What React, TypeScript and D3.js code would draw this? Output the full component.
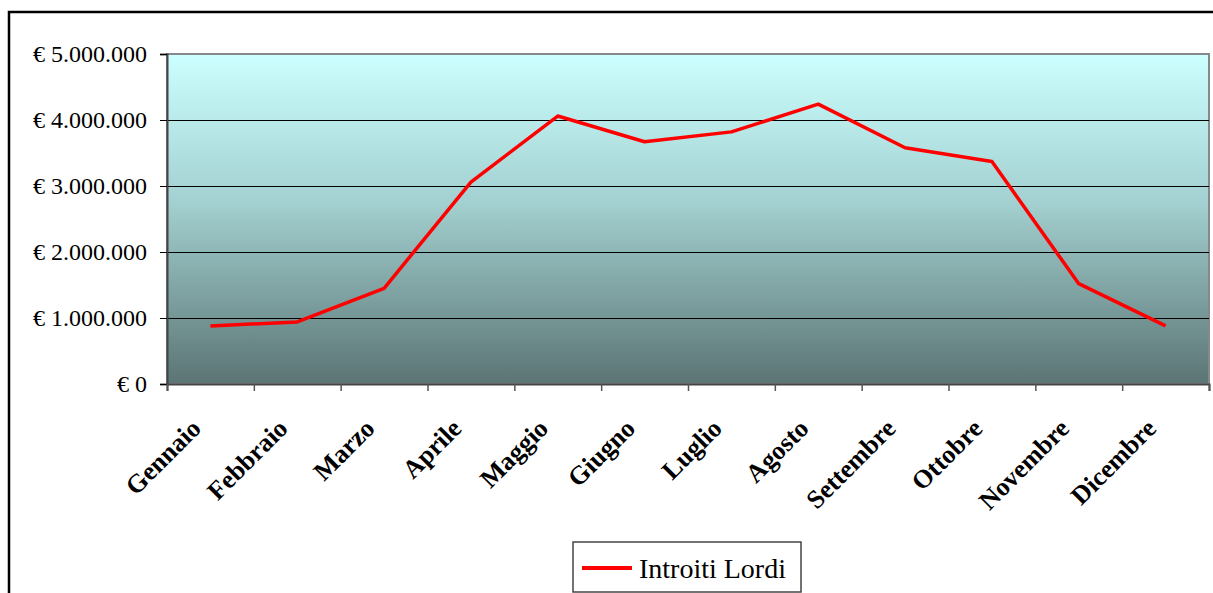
import React, { useEffect, useRef } from 'react'
import * as d3 from 'd3'

const months = ['Gennaio', 'Febbraio', 'Marzo', 'Aprile', 'Maggio', 'Giugno',
    'Luglio', 'Agosto', 'Settembre', 'Ottobre', 'Novembre', 'Dicembre']
const introitiLordi = [880000, 940000, 1450000, 3060000, 4060000, 3670000,
    3820000, 4240000, 3580000, 3370000, 1520000, 880000]
const yTicks = [0, 1000000, 2000000, 3000000, 4000000, 5000000]
const seriesName = 'Introiti Lordi'

const width = 1213
const height = 593
const margin = { top: 54, right: 4, bottom: 209, left: 167 }
const font = "'Liberation Serif', 'DejaVu Serif', serif"

const fmt = (v: number) => '€ ' + d3.format(',')(v).replace(/,/g, '.')

export default function App() {
    const node = useRef<SVGSVGElement>(null)

    useEffect(() => {
        const svg = d3.select(node.current)
        svg.selectAll('*').remove()

        const x = d3.scaleBand<number>()
            .domain(d3.range(months.length))
            .range([margin.left, width - margin.right])

        const y = d3.scaleLinear()
            .domain([0, 5000000])
            .range([height - margin.bottom, margin.top])

        const defs = svg.append('defs')
        const grad = defs.append('linearGradient')
            .attr('id', 'bg').attr('x1', 0).attr('y1', 0).attr('x2', 0).attr('y2', 1)
        grad.append('stop').attr('offset', '0%').attr('stop-color', '#ccffff')
        grad.append('stop').attr('offset', '45%').attr('stop-color', '#a3d0d0')
        grad.append('stop').attr('offset', '100%').attr('stop-color', '#5b7474')

        // outer frame
        svg.append('path')
            .attr('d', `M9,${height} V12 H${width}`)
            .attr('fill', 'none').attr('stroke', '#000').attr('stroke-width', 2.5)

        svg.append('rect')
            .attr('x', margin.left).attr('y', margin.top)
            .attr('width', width - margin.right - margin.left)
            .attr('height', y(0) - margin.top)
            .attr('fill', 'url(#bg)')
            .attr('stroke', '#888').attr('stroke-width', 2)

        // grid
        svg.append('g')
            .selectAll('line')
            .data(yTicks.slice(1, -1))
            .join('line')
            .attr('x1', margin.left).attr('x2', width - margin.right)
            .attr('y1', d => Math.round(y(d)) + 0.5).attr('y2', d => Math.round(y(d)) + 0.5)
            .attr('stroke', '#000').attr('stroke-width', 1)

        const yAxis = svg.append('g')
            .attr('transform', `translate(${margin.left},0)`)
            .call(d3.axisLeft(y).tickValues(yTicks).tickFormat(d => fmt(+d)).tickSize(7).tickPadding(13))
        yAxis.select('.domain').attr('stroke', '#444').attr('stroke-width', 2)
        yAxis.selectAll('.tick line').attr('stroke', '#000')
        yAxis.selectAll('text')
            .style('font-family', font).style('font-size', '24px').attr('fill', '#000')

        const xAxis = svg.append('g')
            .attr('transform', `translate(0,${y(0)})`)
            .call(d3.axisBottom(d3.scaleLinear().domain([0, months.length]).range([margin.left, width - margin.right]))
                .ticks(months.length).tickFormat(() => '').tickSize(7).tickSizeOuter(7))
        xAxis.select('.domain').attr('stroke', '#444').attr('stroke-width', 2)
        xAxis.selectAll('.tick line').attr('stroke', '#555').attr('stroke-width', 1.5)

        svg.append('g')
            .selectAll('text')
            .data(months)
            .join('text')
            .attr('transform', (d, i) => `translate(${x(i)! + x.bandwidth() / 2 - 8},${y(0) + 46}) rotate(-45)`)
            .attr('text-anchor', 'end')
            .style('font-family', font).style('font-size', '26px').style('font-weight', 'bold')
            .text(d => d)

        const line = d3.line<number>()
            .x((d, i) => x(i)! + x.bandwidth() / 2)
            .y(d => y(d))

        svg.append('path')
            .datum(introitiLordi)
            .attr('d', line)
            .attr('fill', 'none')
            .attr('stroke', '#ff0000')
            .attr('stroke-width', 3.5)
            .attr('stroke-linejoin', 'round')

        // legend
        const lg = svg.append('g').attr('transform', 'translate(573,542)')
        lg.append('rect').attr('width', 228).attr('height', 50)
            .attr('fill', '#fff').attr('stroke', '#444').attr('stroke-width', 1.5)
        lg.append('line').attr('x1', 9).attr('x2', 59).attr('y1', 26).attr('y2', 26)
            .attr('stroke', '#ff0000').attr('stroke-width', 4)
        lg.append('text').attr('x', 66).attr('y', 36)
            .style('font-family', font).style('font-size', '28px').attr('fill', '#000')
            .text(seriesName)
    }, [])

    return (
        <svg ref={node} width={width} height={height}
            style={{ position: 'absolute', left: 0, top: 0, background: '#fff' }} />
    )
}
